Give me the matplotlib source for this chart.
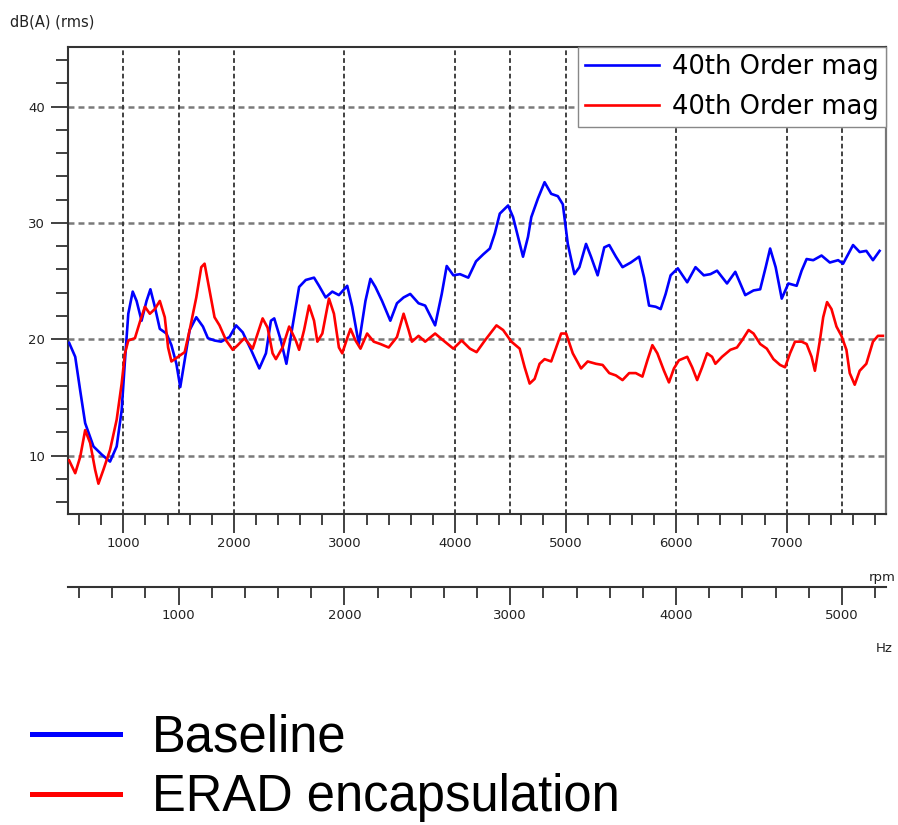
import matplotlib
matplotlib.use("Agg")
import matplotlib.pyplot as plt
from matplotlib.ticker import MultipleLocator, FixedLocator
from matplotlib.lines import Line2D

plt.rcParams['font.family'] = ['DejaVu Sans']
plt.rcParams['lines.scale_dashes'] = False

# ---- data (rpm, dB(A)) ----
baseline_rpm = [510, 565, 610, 655, 730, 805, 880, 940, 985, 1015, 1045, 1085, 1120, 1165, 1210, 1245, 1285,
                1330, 1390, 1435, 1480, 1515, 1555, 1600, 1660, 1720, 1765, 1825, 1885, 1960, 2020, 2080,
                2155, 2230, 2290, 2335, 2365, 2425, 2475, 2530, 2590, 2650, 2725, 2770, 2830, 2890, 2950,
                3025, 3070, 3130, 3190, 3235, 3280, 3340, 3415, 3475, 3535, 3595, 3670, 3730, 3820, 3880,
                3925, 3985, 4045, 4120, 4190, 4255, 4315, 4360, 4405, 4480, 4525, 4570, 4615, 4660, 4690,
                4750, 4810, 4870, 4930, 4975, 5020, 5080, 5125, 5185, 5230, 5290, 5350, 5395, 5455, 5515,
                5590, 5665, 5710, 5755, 5815, 5860, 5905, 5950, 6015, 6100, 6175, 6250, 6310, 6370, 6460,
                6535, 6625, 6700, 6760, 6810, 6850, 6900, 6955, 7015, 7090, 7135, 7180, 7240, 7315, 7390,
                7465, 7510, 7600, 7660, 7720, 7780, 7840]
baseline_db = [19.7, 18.5, 15.6, 12.8, 10.8, 10.1, 9.5, 10.8, 13.9, 18.2, 22.2, 24.1, 23.3, 21.6, 23.3, 24.3, 22.8,
               20.9, 20.5, 19.5, 17.9, 15.9, 18.2, 20.8, 21.9, 21.1, 20.1, 19.9, 19.8, 20.2, 21.2, 20.6,
               19.1, 17.5, 18.8, 21.6, 21.8, 19.9, 17.9, 21.1, 24.5, 25.1, 25.3, 24.6, 23.6, 24.1, 23.8,
               24.6, 22.8, 19.6, 23.3, 25.2, 24.5, 23.3, 21.6, 23.1, 23.6, 23.9, 23.1, 22.9, 21.2, 23.9,
               26.3, 25.5, 25.6, 25.3, 26.7, 27.3, 27.8, 29.1, 30.8, 31.5, 30.5, 28.8, 27.1, 28.8, 30.5,
               32.1, 33.5, 32.5, 32.3, 31.6, 28.2, 25.6, 26.2, 28.2, 27.1, 25.5, 27.9, 28.1, 27.1, 26.2,
               26.6, 27.1, 25.3, 22.9, 22.8, 22.6, 23.9, 25.5, 26.1, 24.9, 26.2, 25.5, 25.6, 25.9, 24.8,
               25.8, 23.8, 24.2, 24.3, 26.2, 27.8, 26.2, 23.5, 24.8, 24.6, 25.9, 26.9, 26.8, 27.2, 26.6,
               26.8, 26.5, 28.1, 27.5, 27.6, 26.8, 27.6]

erad_rpm = [510, 565, 610, 655, 700, 745, 775, 820, 880, 940, 985, 1015, 1045, 1105, 1150, 1195, 1240, 1285,
            1330, 1375, 1405, 1435, 1495, 1555, 1600, 1660, 1705, 1735, 1780, 1825, 1870, 1930, 1990, 2035,
            2095, 2170, 2260, 2305, 2350, 2380, 2440, 2500, 2560, 2590, 2635, 2680, 2725, 2755, 2800, 2860,
            2905, 2950, 2980, 3025, 3055, 3100, 3145, 3205, 3265, 3325, 3400, 3475, 3535, 3580, 3610, 3670,
            3730, 3820, 3895, 3985, 4060, 4135, 4195, 4270, 4375, 4435, 4510, 4585, 4630, 4675, 4720, 4765,
            4810, 4870, 4915, 4960, 5005, 5065, 5140, 5200, 5275, 5335, 5395, 5455, 5515, 5575, 5635, 5695,
            5740, 5785, 5830, 5890, 5935, 5980, 6025, 6100, 6145, 6190, 6235, 6280, 6325, 6355, 6415, 6490,
            6550, 6595, 6655, 6700, 6760, 6820, 6880, 6940, 6985, 7030, 7075, 7135, 7180, 7225, 7255, 7300,
            7330, 7365, 7405, 7450, 7495, 7540, 7570, 7615, 7660, 7720, 7780, 7825, 7870]
erad_db = [9.6, 8.5, 9.9, 12.2, 11.1, 8.8, 7.6, 8.8, 10.5, 13.1, 16.2, 18.8, 19.9, 20.1, 21.5, 22.8, 22.2, 22.6,
           23.3, 21.9, 19.3, 18.1, 18.5, 18.9, 20.8, 23.6, 26.2, 26.5, 24.2, 21.9, 21.2, 19.9, 19.1, 19.5,
           20.1, 19.2, 21.8, 21.0, 18.8, 18.3, 19.3, 21.1, 19.9, 19.1, 20.8, 22.9, 21.6, 19.8, 20.5, 23.5,
           22.2, 19.3, 18.8, 20.1, 20.9, 19.9, 19.2, 20.5, 19.8, 19.6, 19.3, 20.2, 22.2, 20.8, 19.8, 20.3,
           19.8, 20.5, 19.9, 19.2, 19.9, 19.2, 18.9, 19.9, 21.2, 20.8, 19.8, 19.2, 17.6, 16.2, 16.6, 17.9,
           18.3, 18.1, 19.3, 20.5, 20.5, 18.8, 17.5, 18.1, 17.9, 17.8, 17.1, 16.9, 16.5, 17.1, 17.1, 16.8,
           18.2, 19.5, 18.8, 17.3, 16.3, 17.5, 18.2, 18.5, 17.6, 16.5, 17.6, 18.8, 18.5, 17.9, 18.5, 19.1,
           19.3, 19.9, 20.8, 20.5, 19.6, 19.2, 18.3, 17.8, 17.6, 18.8, 19.8, 19.8, 19.6, 18.5, 17.3, 19.9,
           21.9, 23.2, 22.6, 21.1, 20.3, 19.1, 17.1, 16.1, 17.3, 17.9, 19.8, 20.3, 20.3]

series_labels = ["40th Order mag", "40th Order mag"]
legend_labels = ["Baseline", "ERAD encapsulation"]
rpm_ticks = [1000, 2000, 3000, 4000, 5000, 6000, 7000]
hz_ticks = [1000, 2000, 3000, 4000, 5000]
db_ticks = [10, 20, 30, 40]
vgrid_rpm = [1000, 1500, 2000, 3000, 4000, 4500, 5000, 6000, 7000, 7500]

W, H = 898, 825
fig = plt.figure(figsize=(W / 100, H / 100), dpi=100)
L, R, T, B = 67.7, 886, 46.7, 514.3
ax = fig.add_axes([L / W, 1 - B / H, (R - L) / W, (B - T) / H])

ax.set_xlim(497, 7898)
ax.set_ylim(4.97, 45.14)

tc = '#222222'
for v in db_ticks:
    ax.axhline(v, color='#7a7a7a', lw=1.8, dashes=(4.3, 2.9), zorder=1)
for v in vgrid_rpm:
    ax.axvline(v, color='#333333', lw=1.3, dashes=(3.4, 2.2), zorder=1)

ax.plot(baseline_rpm, baseline_db, color='#0000ff', lw=1.9, label=series_labels[0], zorder=3,
        solid_joinstyle='round')
ax.plot(erad_rpm, erad_db, color='#ff0000', lw=1.9, label=series_labels[1], zorder=3,
        solid_joinstyle='round')

ax.xaxis.set_major_locator(FixedLocator(rpm_ticks))
ax.xaxis.set_minor_locator(MultipleLocator(200))
ax.yaxis.set_major_locator(FixedLocator(db_ticks))
ax.yaxis.set_minor_locator(MultipleLocator(2))
ax.tick_params(axis='x', which='major', length=13.5, width=1.3, color='#333', labelsize=9.5,
               labelcolor=tc, pad=3)
ax.tick_params(axis='x', which='minor', length=8, width=1.3, color='#333')
ax.tick_params(axis='y', which='major', length=12.2, width=1.3, color='#333', labelsize=9.5,
               labelcolor=tc, pad=4)
ax.tick_params(axis='y', which='minor', length=8.6, width=1.3, color='#333')
for s in ['left', 'bottom', 'top']:
    ax.spines[s].set_color('#333333')
    ax.spines[s].set_linewidth(1.5)
ax.spines['right'].set_color('#777777')
ax.spines['right'].set_linewidth(1.6)

# secondary Hz axis
loc = -(586.7 - B) / (B - T)
sec = ax.secondary_xaxis(loc, functions=(lambda r: r * 2.0 / 3.0, lambda h: h * 1.5))
sec.xaxis.set_major_locator(FixedLocator(hz_ticks))
sec.xaxis.set_minor_locator(MultipleLocator(200))
sec.tick_params(axis='x', which='major', length=13, width=1.3, color='#333', labelsize=9.5,
                labelcolor=tc, pad=3)
sec.tick_params(axis='x', which='minor', length=8, width=1.3, color='#333')
sec.spines['bottom'].set_color('#333333')
sec.spines['bottom'].set_linewidth(1.5)

fig.text(10 / W, 1 - 21.7 / H, "dB(A) (rms)", fontsize=10.5, color=tc, ha='left', va='center')
fig.text(882 / W, 1 - 578 / H, "rpm", fontsize=9.5, color=tc, ha='center', va='center')
fig.text(884 / W, 1 - 648 / H, "Hz", fontsize=9.5, color=tc, ha='center', va='center')

leg = ax.legend(loc='upper right', bbox_to_anchor=(1.0, 1.0), fontsize=18.5, frameon=True,
                fancybox=False, framealpha=1, edgecolor='#888888', borderaxespad=0,
                handlelength=2.85, handletextpad=0.5, borderpad=0.3, labelspacing=0.52)
leg.get_frame().set_linewidth(1.0)

# bottom legend
colors = ['#0000ff', '#ff0000']
ys = [734, 794]
for c, y, lab in zip(colors, ys, legend_labels):
    fig.add_artist(Line2D([32 / W, 120 / W], [1 - y / H, 1 - y / H], color=c, lw=3.6,
                          transform=fig.transFigure))
    fig.text(152 / W, 1 - (y + 17) / H, lab, fontsize=36.5, family=['Liberation Sans'],
             color='black', ha='left', va='baseline')

fig.savefig("out.png", dpi=100)
